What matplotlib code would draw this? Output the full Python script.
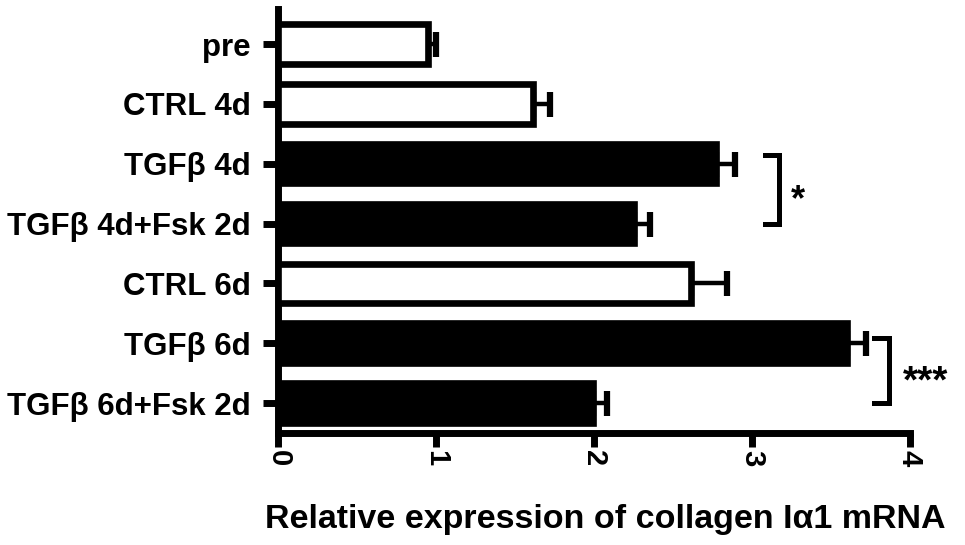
import matplotlib
matplotlib.use("Agg")
import matplotlib.pyplot as plt
import numpy as np

plt.rcParams['font.family'] = ['Liberation Sans', 'DejaVu Sans']
plt.rcParams['font.weight'] = 'bold'

categories = ["pre", "CTRL 4d", "TGFβ 4d", "TGFβ 4d+Fsk 2d", "CTRL 6d", "TGFβ 6d", "TGFβ 6d+Fsk 2d"]
values = [0.95, 1.61, 2.77, 2.25, 2.61, 3.60, 1.99]
errors = [0.05, 0.11, 0.12, 0.10, 0.23, 0.12, 0.09]
filled = [False, False, True, True, False, True, True]
xticks = [0, 1, 2, 3, 4]
xlabel = "Relative expression of collagen Iα1 mRNA"

fig = plt.figure(figsize=(9.65, 5.45), dpi=100)
ax = fig.add_axes([0.2886, 0.2055, 0.6544, 0.778])

y = np.arange(len(categories))
lw = 4.8
ax.errorbar(values, y, xerr=[np.zeros(len(values)), errors], fmt='none',
            ecolor='black', elinewidth=3.2, capsize=9, capthick=4.5, zorder=2)
ax.barh(y, values, height=0.66,
        color=['black' if f else 'white' for f in filled],
        edgecolor='black', linewidth=lw, zorder=3)

ax.set_ylim(6.5, -0.585)
ax.set_xlim(0, 4)
ax.set_yticks(y)
ax.set_yticklabels(categories, fontsize=22.5, fontweight='bold')
ax.set_xticks(xticks)
ax.set_xticklabels([str(t) for t in xticks], fontsize=21, fontweight='bold', rotation=-90)
ax.tick_params(axis='y', length=11, width=5, pad=9, direction='out')
ax.tick_params(axis='x', length=10, width=5, pad=2, direction='out')

for s in ['top', 'right']:
    ax.spines[s].set_visible(False)
for s in ['left', 'bottom']:
    ax.spines[s].set_linewidth(5)
ax.spines['bottom'].set_capstyle('projecting')

ax.set_xlabel(xlabel, fontsize=24.5, fontweight='bold')
ax.xaxis.set_label_coords(0.517, -0.168)

# significance brackets
def bracket(x_left, x_right, y_top, y_bot, label, tx, ty, fs):
    ax.plot([x_left, x_right, x_right, x_left], [y_top, y_top, y_bot, y_bot],
            color='black', lw=3.6, solid_joinstyle='miter', clip_on=False, zorder=4)
    ax.text(tx, ty, label, fontsize=fs, fontweight='bold', ha='center', va='center',
            clip_on=False)

bracket(3.08, 3.171, 1.85, 3.0, "*", 3.29, 2.62, 26)
bracket(3.775, 3.87, 4.92, 6.0, "***", 4.10, 5.66, 28)

fig.savefig("out.png", dpi=100)
